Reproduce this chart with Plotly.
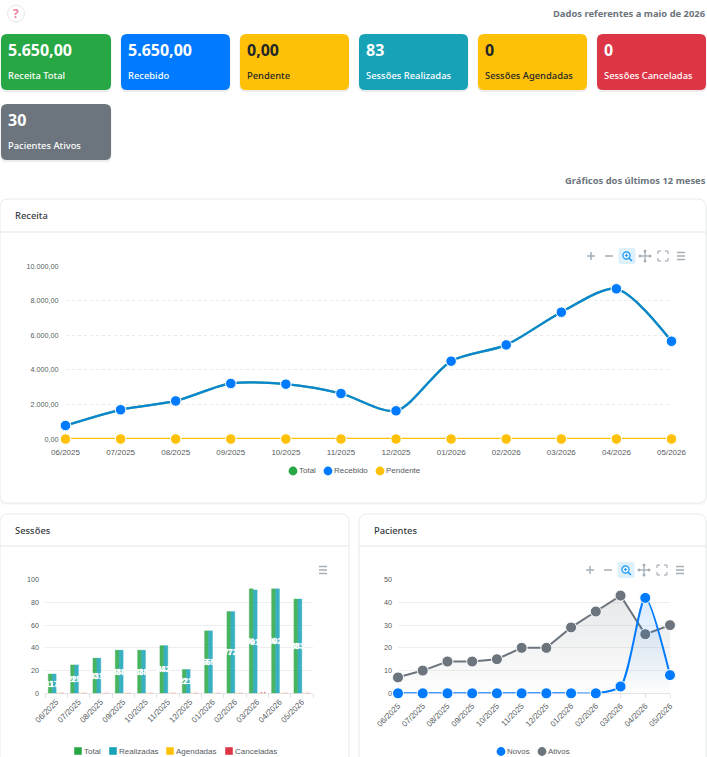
import plotly.graph_objects as go

W, H = 707, 757

months = ["06/2025", "07/2025", "08/2025", "09/2025", "10/2025", "11/2025",
          "12/2025", "01/2026", "02/2026", "03/2026", "04/2026", "05/2026"]

revenue_total = [780, 1690, 2200, 3210, 3170, 2630, 1630, 4500, 5440, 7330, 8680, 5650]
revenue_received = [780, 1690, 2200, 3210, 3170, 2630, 1630, 4500, 5440, 7330, 8680, 5650]
revenue_pending = [0, 0, 0, 0, 0, 0, 0, 0, 0, 0, 0, 0]

sessions_total = [17, 25, 31, 38, 38, 42, 21, 55, 72, 92, 92, 83]
sessions_done = [17, 25, 31, 38, 38, 42, 21, 55, 72, 91, 92, 83]
sessions_booked = [0, 0, 0, 0, 0, 0, 0, 0, 0, 0, 0, 0]
sessions_cancelled = [0, 0, 0, 0, 0, 0, 0, 0, 0, 1, 0, 0]

patients_new = [0, 0, 0, 0, 0, 0, 0, 0, 0, 3, 42, 8]
patients_active = [7, 10, 14, 14, 15, 20, 20, 29, 36, 43, 26, 30]

GREEN, BLUE, YELLOW, TEAL, RED, GREY = "#28a745", "#007bff", "#ffc107", "#17a2b8", "#dc3545", "#6c757d"
DARK = "#212529"

cards = [
    ("5.650,00", "Receita Total", 1, 111, 34, GREEN, "white"),
    ("5.650,00", "Recebido", 121, 230, 34, BLUE, "white"),
    ("0,00", "Pendente", 240, 349, 34, YELLOW, DARK),
    ("83", "Sessões Realizadas", 359, 468, 34, TEAL, "white"),
    ("0", "Sessões Agendadas", 478, 587, 34, YELLOW, DARK),
    ("0", "Sessões Canceladas", 597, 706, 34, RED, "white"),
    ("30", "Pacientes Ativos", 1, 111, 104, GREY, "white"),
]

UI_FONT = "Noto Sans"
CHART_FONT = "Liberation Sans"
TICK_GREY = "#565c61"
ICON_GREY = "#a5afb7"


def px(x):
    return x / W


def py(y):
    return 1 - y / H


shapes = []
notes = []


def rounded(x0, y0, x1, y1, r, fill, line=None, layer="below", line_w=1):
    # Rounded rectangle given in page pixels
    X0, X1 = px(x0), px(x1)
    rx, ry = px(r), r / H
    Y0, Y1 = py(y0), py(y1)
    path = (f"M{X0 + rx},{Y0} L{X1 - rx},{Y0} Q{X1},{Y0} {X1},{Y0 - ry} "
            f"L{X1},{Y1 + ry} Q{X1},{Y1} {X1 - rx},{Y1} L{X0 + rx},{Y1} "
            f"Q{X0},{Y1} {X0},{Y1 + ry} L{X0},{Y0 - ry} Q{X0},{Y0} {X0 + rx},{Y0} Z")
    shapes.append(dict(type="path", path=path, xref="paper", yref="paper", fillcolor=fill,
                       line=dict(color=line or "rgba(0,0,0,0)", width=line_w if line else 0),
                       layer=layer))


def seg(x0, y0, x1, y1, color, width=1.5, layer="above"):
    shapes.append(dict(type="line", xref="paper", yref="paper", x0=px(x0), x1=px(x1),
                       y0=py(y0), y1=py(y1), line=dict(color=color, width=width), layer=layer))


def dot(cx, cy, r, fill, line=None, width=0, layer="above"):
    shapes.append(dict(type="circle", xref="paper", yref="paper",
                       x0=px(cx - r), x1=px(cx + r), y0=py(cy + r), y1=py(cy - r),
                       fillcolor=fill, line=dict(color=line or "rgba(0,0,0,0)", width=width),
                       layer=layer))


def label(x, y, text, size, color, family=UI_FONT, weight=400, anchor="left"):
    notes.append(dict(x=px(x), y=py(y), xref="paper", yref="paper", text=text, showarrow=False,
                      xanchor=anchor, yanchor="middle", borderpad=0, borderwidth=0,
                      font=dict(family=family, size=size, color=color, weight=weight)))


def panel(x0, y0, x1, y1, header_y, title):
    rounded(x0 - 1, y0 + 1, x1 + 1, y1 + 2, 9, "rgba(0,0,0,0.03)")
    rounded(x0, y0, x1, y1, 8, "white", "#e9ebec")
    seg(x0, header_y, x1, header_y, "#e2e4e6", 1, "below")
    label(x0 + 15, (y0 + header_y) / 2, title, 9.4, "#343a40", weight=500)


def toolbar(x_plus, y):
    # Zoom, pan and menu controls of the chart header
    seg(x_plus - 4, y, x_plus + 4, y, ICON_GREY)
    seg(x_plus, y - 4, x_plus, y + 4, ICON_GREY)
    xm = x_plus + 18
    seg(xm - 4, y, xm + 4, y, ICON_GREY)
    xz = x_plus + 36
    rounded(xz - 8.5, y - 8, xz + 8.5, y + 8, 2, "#dff0fd", layer="above")
    dot(xz - 0.5, y - 0.5, 3.6, "rgba(0,0,0,0)", "#1c97ee", 1.2)
    seg(xz + 2, y + 2, xz + 5, y + 5, "#1c97ee", 1.5)
    seg(xz - 2, y - 0.5, xz + 1, y - 0.5, "#1c97ee", 0.9)
    seg(xz - 0.5, y - 2, xz - 0.5, y + 1, "#1c97ee", 0.9)
    xp = x_plus + 54
    seg(xp - 5.5, y, xp + 5.5, y, ICON_GREY, 1.3)
    seg(xp, y - 5.5, xp, y + 5.5, ICON_GREY, 1.3)
    for dx, dy in ((-5, 0), (5, 0), (0, -5), (0, 5)):
        dot(xp + dx, y + dy, 1.5, ICON_GREY)
    xr = x_plus + 72
    for sx in (-1, 1):
        for sy in (-1, 1):
            seg(xr + sx * 5, y + sy * 5, xr + sx * 2, y + sy * 5, ICON_GREY, 1.2)
            seg(xr + sx * 5, y + sy * 5, xr + sx * 5, y + sy * 2, ICON_GREY, 1.2)


def menu(x, y):
    for dy in (-3.5, 0, 3.5):
        seg(x - 4, y + dy, x + 4, y + dy, ICON_GREY, 1.5)


# Page header and summary cards
dot(16, 13.5, 8.5, "white", "#e6e6e6", 1, "below")
label(16, 13, "?", 12, "#f47fa4", weight=700, anchor="center")
label(706, 13.5, "Dados referentes a maio de 2026", 9.4, GREY, weight=700, anchor="right")
label(706, 180, "Gráficos dos últimos 12 meses", 9.4, GREY, weight=700, anchor="right")

for value, name, x0, x1, y0, color, ink in cards:
    rounded(x0 - 0.5, y0 + 1, x1 + 0.5, y0 + 58, 6, "rgba(0,0,0,0.07)")
    rounded(x0, y0, x1, y0 + 56, 6, color)
    label(x0 + 7, y0 + 16.5, value, 16, ink, weight=700)
    label(x0 + 7, y0 + 41, name, 9.4, ink, weight=500)

panel(0, 199, 706, 503, 232, "Receita")
panel(0, 514, 349, 775, 546, "Sessões")
panel(359, 514, 706, 775, 546, "Pacientes")

toolbar(591, 256)
menu(681, 256)
menu(323, 570)
toolbar(590, 570)
menu(680, 570)


def legend_entry(kind, x, y, color, text, text_x):
    if kind == "circle":
        dot(x, y + 0.5, 4.4, color)
    else:
        rounded(x - 4, y - 4, x + 4, y + 4, 0, color, "rgba(255,255,255,0.45)", "above", 1)
    label(text_x, y, text, 8, TICK_GREY, CHART_FONT)


legend_entry("circle", 293, 470.5, GREEN, "Total", 299)
legend_entry("circle", 328, 470.5, BLUE, "Recebido", 334)
legend_entry("circle", 380, 470.5, YELLOW, "Pendente", 386)
legend_entry("square", 78, 751, GREEN, "Total", 84)
legend_entry("square", 113, 751, TEAL, "Realizadas", 119)
legend_entry("square", 170, 751, YELLOW, "Agendadas", 176)
legend_entry("square", 229, 751, RED, "Canceladas", 235)
legend_entry("circle", 501, 751, BLUE, "Novos", 507)
legend_entry("circle", 542, 751, GREY, "Ativos", 548)

fig = go.Figure()


def add_line(series, name, color, axes, marker_color=None, smooth=True, width=2.3, size=10.5,
             smoothing=0.8, **extra):
    fig.add_trace(go.Scatter(
        x=months, y=series, name=name, mode="lines+markers", cliponaxis=False,
        xaxis=axes[0], yaxis=axes[1], showlegend=False,
        line=dict(color=color, width=width, shape="spline" if smooth else "linear", smoothing=smoothing),
        marker=dict(color=marker_color or color, size=size, line=dict(color="white", width=1)),
        **extra))


# Revenue
add_line(revenue_total, "Total", GREEN, ("x", "y"))
add_line(revenue_received, "Recebido", "rgba(0,123,255,0.75)", ("x", "y"), marker_color=BLUE)
add_line(revenue_pending, "Pendente", YELLOW, ("x", "y"))

# Sessions
for series, name, color, edge in ((sessions_total, "Total", GREEN, "rgba(40,167,69,0.35)"),
                                  (sessions_done, "Realizadas", TEAL, "rgba(23,162,184,0.35)"),
                                  (sessions_booked, "Agendadas", YELLOW, "rgba(255,193,7,0.35)"),
                                  (sessions_cancelled, "Canceladas", RED, "rgba(220,53,69,0.35)")):
    fig.add_trace(go.Bar(
        x=months, y=series, name=name, xaxis="x2", yaxis="y2", showlegend=False,
        marker=dict(color=color, opacity=0.85, line=dict(color=edge, width=1)),
        text=[str(v) if v else "" for v in series], textposition="inside", textangle=0,
        insidetextanchor="middle", constraintext="none",
        insidetextfont=dict(family=CHART_FONT, size=8.5, color="white", weight=700,
                            shadow="0 0 1px white")))

# Patients
add_line(patients_active, "Ativos", GREY, ("x3", "y3"), smooth=False, width=2, size=11, fill="tozeroy",
         fillgradient=dict(type="vertical", colorscale=[[0, "rgba(108,117,125,0.01)"], [1, "rgba(108,117,125,0.17)"]]))
add_line(patients_new, "Novos", BLUE, ("x3", "y3"), width=2, size=11, smoothing=0.7, fill="tozeroy",
         fillgradient=dict(type="vertical", colorscale=[[0, "rgba(0,123,255,0.0)"], [1, "rgba(0,123,255,0.15)"]]))

# White strip behind the toolbar of the patients chart
rounded(583, 562, 686, 580.5, 0, "rgba(255,255,255,0.6)", layer="below")

tick_font = dict(family=CHART_FONT, size=8, color=TICK_GREY)
y_font = dict(family=CHART_FONT, size=7.2, color=TICK_GREY)


def vdomain(top, bottom):
    return [py(bottom), py(top)]


x_common = dict(type="category", categoryorder="array", categoryarray=months, showgrid=False,
                zeroline=False, tickfont=tick_font, fixedrange=True, layer="below traces")
grid = dict(showgrid=True, zeroline=False, showline=False, tickfont=y_font, ticks="", fixedrange=True,
            layer="below traces")

fig.update_layout(
    width=W, height=H, autosize=False, margin=dict(l=0, r=0, t=0, b=0, autoexpand=False),
    paper_bgcolor="white", plot_bgcolor="rgba(0,0,0,0)", separators=",.",
    shapes=shapes, annotations=notes, barmode="group", bargap=0.29, bargroupgap=0,
    showlegend=False,
    xaxis=dict(domain=[px(65.5), px(671.5)], anchor="y", range=[0, 11], showline=False,
               ticks="", tickangle=0, ticklabelstandoff=7, **x_common),
    yaxis=dict(domain=vdomain(266, 439), anchor="x", range=[0, 10000], dtick=2000,
               tickformat=",.2f", gridcolor="#e9e9e9", griddash="3px,3px", gridwidth=1,
               ticklabelstandoff=6, **grid),
    xaxis2=dict(domain=[px(45), px(313)], anchor="y2", range=[-0.5, 11.5], showline=True,
                linecolor="#e3e3e3", ticks="outside", ticklen=4, tickcolor="#e3e3e3",
                tickson="boundaries", tickangle=-45, **x_common),
    yaxis2=dict(domain=vdomain(579.7, 693.3), anchor="x2", range=[0, 100], dtick=20,
                gridcolor="#eeeeee", gridwidth=1.3, ticklabelstandoff=5, **grid),
    xaxis3=dict(domain=[px(398), px(670)], anchor="y3", range=[0, 11], showline=True,
                linecolor="#e3e3e3", ticks="outside", ticklen=4, tickcolor="#e3e3e3",
                tickangle=-45, **x_common),
    yaxis3=dict(domain=vdomain(579.7, 693.3), anchor="x3", range=[0, 50], dtick=10,
                gridcolor="#eeeeee", gridwidth=1.3, ticklabelstandoff=5, **grid),
)

fig.write_html("out.html", config=dict(displayModeBar=False))
